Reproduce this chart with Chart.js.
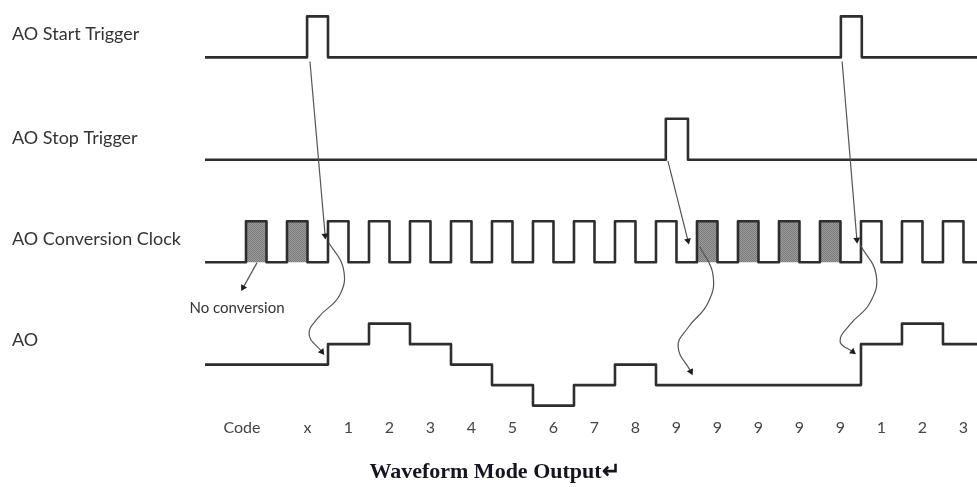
<!DOCTYPE html>
<html>
<head>
<meta charset="utf-8">
<script src="https://cdn.jsdelivr.net/npm/chart.js@4.4.1/dist/chart.umd.min.js"></script>
<style>
  html, body { margin: 0; padding: 0; background: #fff; }
  canvas { display: block; }
</style>
</head>
<body>
<canvas id="wave" width="977" height="487"></canvas>
<script>
// time unit = one clock period, value unit = one AO code step
const rowLabels = ['AO Start Trigger', 'AO Stop Trigger', 'AO Conversion Clock', 'AO'];
const rowLabelPos = [16.12, 11.07, 6.14, 1.17];
const startBase = 15, stopBase = 10, clockBase = 5, aoBase = 0;
const pulseHeight = 2;

const codeLabels = ['Code', 'x', '1', '2', '3', '4', '5', '6', '7', '8', '9', '9', '9', '9', '9', '1', '2', '3'];
const codePos = [-0.1, 1.5, 2.5, 3.5, 4.5, 5.5, 6.5, 7.5, 8.5, 9.5, 10.5, 11.5, 12.5, 13.5, 14.5, 15.5, 16.5, 17.5];

const clockRise = [0, 1, 2, 3, 4, 5, 6, 7, 8, 9, 10, 11, 12, 13, 14, 15, 16, 17];
const clockHigh = 0.5;
const shadedRise = [0, 1, 11, 12, 13, 14];

const startPulses = [[1.49, 2.0], [14.51, 15.02]];
const stopPulses = [[10.24, 10.78]];

const aoTimes = [-1, 2, 3, 4, 5, 6, 7, 8, 9, 10, 15, 16, 17];
const aoLevels = [0, 1, 2, 1, 0, -1, -2, -1, 0, -1, 1, 2, 1];

// arrows: [t, value]
const straightArrows = [
  [[1.56, 14.8], [1.93, 6.3]],
  [[10.29, 9.95], [10.78, 6.05]],
  [[14.54, 14.8], [14.9, 6.1]],
  [[0.27, 4.98], [-0.07, 3.76]]
];
const curvedArrows = [
  [[2.02, 5.95], [2.37, 4.73], [2.29, 3.41], [1.76, 2.29], [1.54, 1.46], [1.85, 0.63]],
  [[11.07, 5.76], [11.39, 4.39], [11.27, 3.02], [10.78, 1.8], [10.54, 0.88], [10.85, -0.34]],
  [[14.98, 5.85], [15.37, 4.39], [15.22, 3.02], [14.73, 1.95], [14.49, 1.12], [14.8, 0.63]]
];
const note = { text: 'No conversion', t: -0.22, v: 2.78 };

const xMin = -1, xMax = 17.83;

function pulseLine(base, pulses) {
  const pts = [{ x: xMin, y: base }];
  pulses.forEach(([a, b]) => {
    pts.push({ x: a, y: base + pulseHeight });
    pts.push({ x: b, y: base });
  });
  pts.push({ x: xMax, y: base });
  return pts;
}

const clockPulses = clockRise.map(t => [t, t + clockHigh]);
const shadePulses = shadedRise.map(t => [t, t + clockHigh]);
const aoPoints = aoTimes.map((t, i) => ({ x: t, y: aoBase + aoLevels[i] }));
aoPoints.push({ x: xMax, y: aoBase + aoLevels[aoLevels.length - 1] });

function hatch() {
  const c = document.createElement('canvas');
  c.width = 2; c.height = 2;
  const g = c.getContext('2d');
  g.fillStyle = '#9c9c9c';
  g.fillRect(0, 0, 2, 2);
  g.fillStyle = '#7a7a7a';
  g.fillRect(0, 0, 1, 1);
  g.fillRect(1, 1, 1, 1);
  return g.createPattern(c, 'repeat');
}

const lineColor = '#2e2e2e';
const arrowColor = '#555';

function headRotation(ctx) {
  const pts = ctx.dataset.data;
  const n = pts.length;
  const sx = ctx.chart.scales.x, sy = ctx.chart.scales.y;
  const dx = sx.getPixelForValue(pts[n - 1].x) - sx.getPixelForValue(pts[n - 2].x);
  const dy = sy.getPixelForValue(pts[n - 1].y) - sy.getPixelForValue(pts[n - 2].y);
  return Math.atan2(dx, -dy) * 180 / Math.PI;
}

function arrowSet(points, tension) {
  return {
    data: points.map(([x, y]) => ({ x, y })),
    borderColor: arrowColor,
    borderWidth: 1.2,
    tension: tension,
    fill: false,
    pointStyle: 'triangle',
    pointRadius: ctx => ctx.dataIndex === ctx.dataset.data.length - 1 ? 4 : 0,
    pointBackgroundColor: '#1e1e1e',
    pointBorderColor: '#1e1e1e',
    pointBorderWidth: 0,
    pointRotation: headRotation
  };
}

function signal(points) {
  return {
    data: points,
    stepped: true,
    borderColor: lineColor,
    borderWidth: 2.6,
    borderJoinStyle: 'round',
    pointRadius: 0,
    fill: false
  };
}

const datasets = [
  ...straightArrows.map(a => arrowSet(a, 0)),
  ...curvedArrows.map(a => arrowSet(a, 0.45)),
  signal(pulseLine(startBase, startPulses)),
  signal(pulseLine(stopBase, stopPulses)),
  signal(pulseLine(clockBase, clockPulses)),
  signal(aoPoints),
  {
    data: pulseLine(clockBase, shadePulses),
    stepped: true,
    borderWidth: 0,
    pointRadius: 0,
    fill: { value: clockBase },
    backgroundColor: hatch()
  }
];

const notePlugin = {
  id: 'note',
  afterDatasetsDraw(chart) {
    const { ctx, scales } = chart;
    ctx.save();
    ctx.font = '15px Lato';
    ctx.fillStyle = '#333';
    ctx.textAlign = 'center';
    ctx.textBaseline = 'middle';
    ctx.fillText(note.text, scales.x.getPixelForValue(note.t), scales.y.getPixelForValue(note.v));
    ctx.restore();
  }
};

new Chart(document.getElementById('wave'), {
  type: 'line',
  data: { datasets },
  plugins: [notePlugin],
  options: {
    responsive: false,
    animation: false,
    events: [],
    layout: { autoPadding: false, padding: { left: 12, top: 0, right: 0, bottom: 0 } },
    plugins: {
      legend: { display: false },
      tooltip: { enabled: false },
      title: {
        display: true,
        position: 'bottom',
        text: 'Waveform Mode Output\u21B5',
        color: '#151520',
        font: { family: 'Liberation Serif', size: 22, weight: 'bold' },
        padding: { top: 15, bottom: 1 }
      }
    },
    scales: {
      x: {
        type: 'linear',
        min: xMin,
        max: xMax,
        grid: { display: false, drawTicks: false },
        border: { display: false },
        ticks: {
          autoSkip: false,
          maxRotation: 0,
          padding: 4,
          color: '#444',
          font: { family: 'Lato', size: 16 },
          callback: (v, i) => codeLabels[i]
        },
        afterBuildTicks: s => { s.ticks = codePos.map(v => ({ value: v })); },
        afterFit: s => { s.height = 30; s.paddingLeft = 0; s.paddingRight = 0; }
      },
      y: {
        type: 'linear',
        min: -2.44,
        max: 17.8,
        grid: { display: false, drawTicks: false },
        border: { display: false },
        ticks: {
          autoSkip: false,
          crossAlign: 'far',
          padding: 0,
          color: '#333',
          font: { family: 'Lato', size: 18 },
          callback: (v, i) => rowLabels[i]
        },
        afterBuildTicks: s => { s.ticks = rowLabelPos.map(v => ({ value: v })); },
        afterFit: s => { s.width = 193; s.paddingTop = 0; s.paddingBottom = 0; }
      }
    }
  }
});
</script>
</body>
</html>
